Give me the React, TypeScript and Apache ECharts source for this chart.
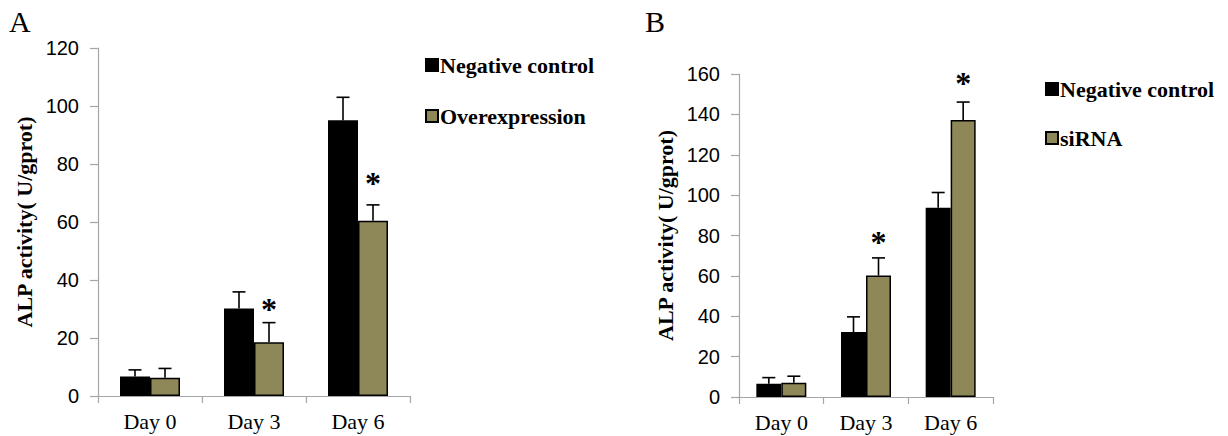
import React, { useEffect, useRef } from "react";
import * as echarts from "echarts";

const categories = ["Day 0", "Day 3", "Day 6"];
const yTicksA = { min: 0, max: 120, interval: 20 };
const yTicksB = { min: 0, max: 160, interval: 20 };

// Panel A
const aNeg = [6.7, 30.2, 95.1];
const aNegSd = [2.3, 5.7, 7.9];
const aOver = [6.3, 18.5, 60.4];
const aOverSd = [3.2, 6.8, 5.5];
const aStar = [null, 31.4, 74.8]; // asterisk height over Overexpression bars

// Panel B
const bNeg = [6.6, 32.2, 93.7];
const bNegSd = [3.0, 7.5, 7.6];
const bSi = [7.1, 60.2, 137.2];
const bSiSd = [3.2, 8.7, 8.9];
const bStar = [null, 78.7, 157.5]; // asterisk height over siRNA bars

const BLACK = "#000000";
const OLIVE = "#8e8757";
const AXIS_GREY = "#a6a6a6";
const SERIF = "'Liberation Serif', 'Times New Roman', serif";
const SANS = "'Liberation Sans', Arial, sans-serif";

function errRender(offset: number, cap: number) {
  return (params: any, api: any) => {
    const cat = api.value(0);
    const mean = api.value(1);
    const sd = api.value(2);
    const p0 = api.coord([cat, mean]);
    const p1 = api.coord([cat, mean + sd]);
    const x = p0[0] + offset;
    return {
      type: "group",
      children: [
        {
          type: "line",
          shape: { x1: x, y1: p0[1], x2: x, y2: p1[1] },
          style: { stroke: BLACK, lineWidth: 1.6 },
        },
        {
          type: "line",
          shape: { x1: x - cap / 2, y1: p1[1], x2: x + cap / 2, y2: p1[1] },
          style: { stroke: BLACK, lineWidth: 1.6 },
        },
      ],
    };
  };
}

function starRender(offset: number) {
  return (params: any, api: any) => {
    const cat = api.value(0);
    const y = api.value(1);
    const p = api.coord([cat, y]);
    return {
      type: "text",
      x: p[0] + offset,
      y: p[1] + 4,
      style: {
        text: "*",
        fontFamily: SERIF,
        fontWeight: "bold",
        fontSize: 32,
        fill: BLACK,
        align: "center",
        verticalAlign: "middle",
      },
    };
  };
}

function errData(vals: number[], sds: number[]) {
  return vals.map((v, i) => [i, v, sds[i]]);
}
function starData(stars: (number | null)[]) {
  return stars
    .map((s, i) => (s == null ? null : [i, s]))
    .filter((d) => d != null);
}

function xAxisFor(gridIndex: number) {
  return {
    type: "category",
    gridIndex,
    data: categories,
    axisLine: { lineStyle: { color: AXIS_GREY, width: 1.2 } },
    axisTick: { show: true, length: 7, lineStyle: { color: AXIS_GREY, width: 1.2 } },
    axisLabel: { color: BLACK, fontFamily: SERIF, fontSize: 22, margin: 14 },
  };
}

function yAxisFor(gridIndex: number, t: { min: number; max: number; interval: number }, gap: number) {
  return {
    type: "value",
    gridIndex,
    min: t.min,
    max: t.max,
    interval: t.interval,
    name: "ALP activity( U/gprot)",
    nameLocation: "middle",
    nameGap: gap,
    nameTextStyle: { color: BLACK, fontFamily: SERIF, fontWeight: "bold", fontSize: 22 },
    splitLine: { show: false },
    axisLine: { show: true, lineStyle: { color: AXIS_GREY, width: 1.2 } },
    axisTick: { show: true, length: 8, lineStyle: { color: AXIS_GREY, width: 1.2 } },
    axisLabel: { color: BLACK, fontFamily: SANS, fontSize: 20, margin: 19 },
  };
}

export default function App() {
  const ref = useRef<HTMLDivElement>(null);
  useEffect(() => {
    document.body.style.margin = "0";
    if (!ref.current) return;
    const chart = echarts.init(ref.current, null, { renderer: "svg" });
    const bwA = 30;
    const bwB = 25;
    const barStyle = (c: string) => ({ color: c, borderColor: BLACK, borderWidth: 1.5 });
    const legendText = { color: BLACK, fontFamily: SERIF, fontWeight: "bold", fontSize: 22, padding: [0, 0, 0, -3] };
    chart.setOption({
      animation: false,
      backgroundColor: "#ffffff",
      grid: [
        { left: 98, top: 48, width: 312, height: 348 },
        { left: 739, top: 74, width: 254, height: 323 },
      ],
      xAxis: [xAxisFor(0), xAxisFor(1)],
      yAxis: [yAxisFor(0, yTicksA, 63), yAxisFor(1, yTicksB, 63)],
      legend: [
        {
          orient: "vertical",
          left: 420,
          top: 49,
          icon: "rect",
          itemWidth: 12,
          itemHeight: 12,
          itemGap: 29,
          data: ["Negative control", "Overexpression"],
          textStyle: legendText,
        },
        {
          orient: "vertical",
          left: 1040,
          top: 73,
          icon: "rect",
          itemWidth: 12,
          itemHeight: 12,
          itemGap: 27,
          data: ["Negative control", "siRNA"],
          textStyle: legendText,
        },
      ],
      graphic: [
        { type: "text", left: 9, top: 6, style: { text: "A", fontFamily: SERIF, fontSize: 30, fill: BLACK } },
        { type: "text", left: 645, top: 6, style: { text: "B", fontFamily: SERIF, fontSize: 30, fill: BLACK } },
      ],
      series: [
        {
          name: "Negative control", type: "bar", xAxisIndex: 0, yAxisIndex: 0,
          barWidth: bwA, barGap: "0%", data: aNeg, itemStyle: barStyle(BLACK),
        },
        {
          name: "Overexpression", type: "bar", xAxisIndex: 0, yAxisIndex: 0,
          barWidth: bwA, barGap: "0%", data: aOver, itemStyle: barStyle(OLIVE),
        },
        {
          name: "Negative control", type: "bar", xAxisIndex: 1, yAxisIndex: 1,
          barWidth: bwB, barGap: "0%", data: bNeg, itemStyle: barStyle(BLACK),
        },
        {
          name: "siRNA", type: "bar", xAxisIndex: 1, yAxisIndex: 1,
          barWidth: bwB, barGap: "0%", data: bSi, itemStyle: barStyle(OLIVE),
        },
        { type: "custom", xAxisIndex: 0, yAxisIndex: 0, renderItem: errRender(-bwA / 2, 13), data: errData(aNeg, aNegSd), z: 3 },
        { type: "custom", xAxisIndex: 0, yAxisIndex: 0, renderItem: errRender(bwA / 2, 13), data: errData(aOver, aOverSd), z: 3 },
        { type: "custom", xAxisIndex: 1, yAxisIndex: 1, renderItem: errRender(-bwB / 2, 13), data: errData(bNeg, bNegSd), z: 3 },
        { type: "custom", xAxisIndex: 1, yAxisIndex: 1, renderItem: errRender(bwB / 2, 13), data: errData(bSi, bSiSd), z: 3 },
        { type: "custom", xAxisIndex: 0, yAxisIndex: 0, renderItem: starRender(bwA / 2), data: starData(aStar), z: 4 },
        { type: "custom", xAxisIndex: 1, yAxisIndex: 1, renderItem: starRender(bwB / 2), data: starData(bStar), z: 4 },
      ],
    });
    return () => chart.dispose();
  }, []);
  return <div ref={ref} style={{ width: 1228, height: 436 }} />;
}
